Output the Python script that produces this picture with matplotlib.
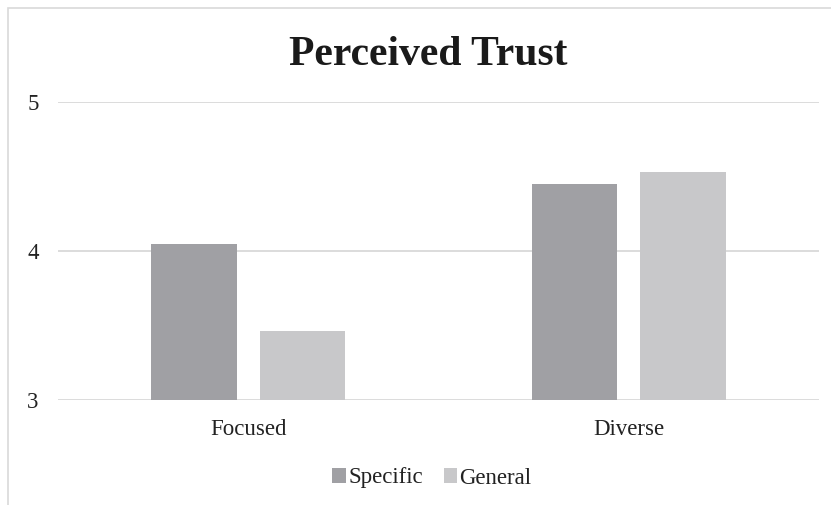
import matplotlib.pyplot as plt
import numpy as np
from matplotlib.patches import Rectangle

categorias = ['Focused', 'Diverse']
series = ['Specific', 'General']
specific = [4.05, 4.45]
general = [3.46, 4.53]
yticks = [3, 4, 5]

cores = ['#A0A0A4', '#C8C8CA']
grade = '#D9D9D9'

plt.rcParams['font.family'] = ['Liberation Serif', 'DejaVu Serif']

fig = plt.figure(figsize=(8.31, 5.05), dpi=100)
ax = fig.add_axes([58 / 831, 1 - 400 / 505, 761 / 831, 298 / 505])

# moldura do grafico (cortada na direita e embaixo)
fig.patches.append(Rectangle((8 / 831, -0.1), 1.2, 1 - 8 / 505 + 0.1,
                             transform=fig.transFigure, fill=False,
                             edgecolor=grade, linewidth=1.2))

x = np.arange(len(categorias))
larg = 0.225
gap = 0.06
ax.bar(x - (larg + gap) / 2, specific, larg, color=cores[0], label=series[0], zorder=3)
ax.bar(x + (larg + gap) / 2, general, larg, color=cores[1], label=series[1], zorder=3)

ax.set_xlim(-0.5, 1.5)
ax.set_ylim(3, 5)
ax.set_yticks(yticks)
ax.set_yticklabels([str(v) for v in yticks], fontsize=16.5, color='#222222')
ax.set_xticks(x)
ax.set_xticklabels(categorias, fontsize=16.5, color='#222222')
ax.tick_params(length=0)
ax.tick_params(axis='y', pad=14)
ax.tick_params(axis='x', pad=14)
for s in ax.spines.values():
    s.set_visible(False)
ax.yaxis.grid(True, color=grade, linewidth=1.3, zorder=0)
ax.set_axisbelow(True)

fig.text(428 / 831, 1 - 65 / 505, 'Perceived Trust', ha='center', va='baseline',
         fontsize=30, fontweight='bold', color='#1a1a1a')

fig.legend(loc='center', bbox_to_anchor=(432 / 831, 1 - 478 / 505), ncol=2,
           frameon=False, fontsize=16.5, handlelength=0.6, handleheight=0.6,
           handletextpad=0.1, columnspacing=0.9, labelcolor='#222222')

plt.savefig('out.png', dpi=100)
